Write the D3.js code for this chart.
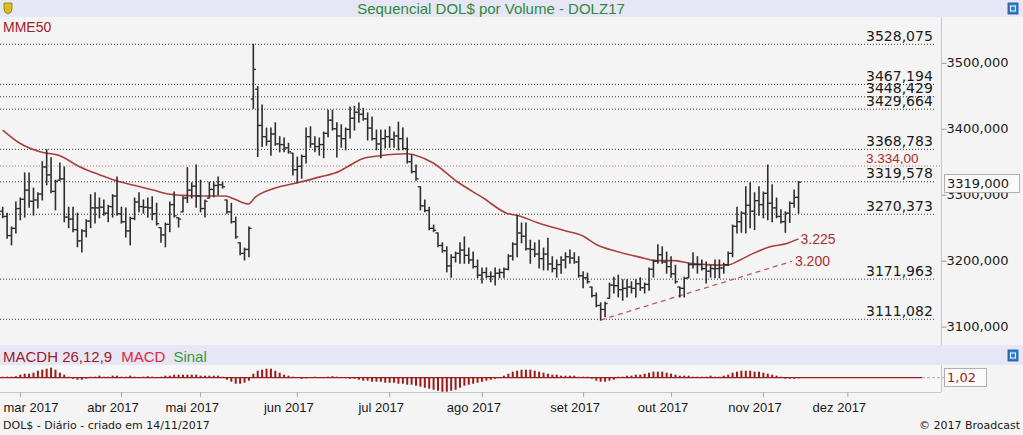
<!DOCTYPE html>
<html><head><meta charset="utf-8">
<script src="https://cdn.jsdelivr.net/npm/d3@7"></script>
<style>html,body{margin:0;padding:0;background:#f4f4f4;}svg{display:block;}</style>
</head><body>
<svg id="c" width="1023" height="435"></svg>
<script>
// ---- DATA ----
const high = [3281,3272,3251,3289,3295,3333,3333,3310,3303,3350,3368,3356,3322,3348,3342,3281,3281,3272,3247,3262,
3300,3303,3295,3292,3284,3300,3327,3281,3280,3266,3295,3303,3292,3295,3297,3287,3250,3257,3289,3304,
3265,3297,3341,3318,3345,3322,3292,3319,3319,3327,3319,3292,3287,3266,3227,3219,3251,3528,3464,3436,
3401,3401,3409,3388,3386,3378,3363,3357,3360,3401,3403,3388,3386,3395,3428,3428,3409,3406,3401,3433,
3434,3439,3431,3424,3418,3398,3398,3398,3403,3395,3410,3401,3386,3360,3345,3312,3292,3281,3254,3242,
3227,3221,3209,3213,3227,3236,3219,3213,3201,3189,3189,3183,3189,3187,3189,3209,3227,3269,3257,3257,
3231,3227,3231,3219,3234,3206,3201,3206,3212,3216,3212,3206,3183,3181,3160,3151,3136,3137,3166,3175,
3178,3171,3171,3168,3171,3174,3166,3189,3201,3224,3221,3213,3206,3193,3160,3175,3196,3212,3206,3201,
3198,3193,3201,3201,3196,3213,3254,3281,3274,3312,3318,3303,3312,3304,3345,3315,3295,3277,3274,3289,
3307,3320];
const low = [3265,3234,3224,3242,3262,3266,3281,3269,3280,3292,3315,3303,3277,3322,3259,3250,3244,3221,3213,3236,
3250,3257,3265,3269,3259,3266,3269,3257,3236,3224,3262,3274,3272,3266,3262,3254,3228,3221,3244,3266,
3251,3274,3288,3295,3281,3274,3266,3295,3297,3300,3310,3272,3257,3234,3209,3201,3206,3431,3358,3373,
3375,3360,3375,3365,3365,3363,3330,3318,3325,3348,3372,3365,3360,3356,3388,3398,3357,3372,3368,3386,
3398,3410,3413,3383,3383,3368,3356,3371,3372,3372,3368,3368,3348,3333,3322,3277,3274,3247,3244,3221,
3213,3183,3175,3198,3196,3196,3196,3189,3174,3166,3174,3168,3163,3174,3174,3186,3201,3206,3227,3216,
3196,3206,3189,3186,3186,3183,3175,3181,3189,3196,3196,3175,3159,3166,3145,3130,3110,3115,3143,3151,
3145,3140,3145,3151,3145,3155,3151,3155,3175,3196,3196,3181,3175,3166,3145,3145,3174,3189,3181,3186,
3166,3175,3174,3174,3181,3193,3206,3242,3243,3242,3250,3247,3269,3265,3262,3259,3265,3257,3243,3258,
3281,3272];
const open = [3275,3267,3238,3249,3279,3293,3307,3290,3292,3301,3342,3330,3305,3322,3324,3266,3263,3247,3230,3245,
3260,3280,3280,3281,3272,3282,3298,3271,3259,3245,3264,3289,3282,3281,3280,3271,3250,3239,3255,3285,
3265,3274,3295,3307,3313,3298,3279,3295,3308,3314,3315,3292,3274,3259,3227,3211,3217,3445,3460,3405,
3388,3381,3392,3377,3376,3371,3363,3338,3343,3358,3388,3377,3373,3376,3393,3413,3400,3389,3385,3399,
3416,3425,3422,3415,3401,3385,3377,3385,3388,3384,3389,3385,3370,3350,3335,3312,3283,3276,3249,3242,
3223,3215,3192,3205,3211,3216,3208,3201,3191,3178,3182,3176,3176,3181,3182,3187,3207,3225,3242,3237,
3218,3217,3210,3203,3210,3195,3188,3194,3201,3206,3204,3198,3177,3174,3160,3147,3132,3126,3143,3163,
3162,3156,3158,3160,3158,3165,3159,3164,3187,3199,3209,3198,3191,3180,3160,3158,3174,3194,3194,3194,
3188,3184,3188,3188,3189,3194,3211,3252,3259,3272,3284,3275,3291,3285,3302,3287,3280,3267,3259,3272,
3287,3296];
const close = [3267,3238,3249,3279,3293,3307,3290,3292,3301,3342,3330,3305,3320,3324,3266,3263,3247,3230,3245,3260,
3280,3280,3281,3272,3282,3298,3271,3259,3245,3264,3289,3282,3281,3280,3271,3256,3239,3255,3285,3268,
3263,3295,3307,3313,3298,3279,3290,3308,3314,3315,3312,3274,3259,3236,3211,3217,3249,3490,3405,3388,
3381,3392,3377,3376,3371,3365,3338,3343,3358,3388,3377,3373,3376,3393,3413,3400,3389,3385,3399,3416,
3425,3422,3415,3401,3385,3377,3385,3388,3384,3389,3385,3370,3350,3335,3324,3283,3276,3249,3246,3223,
3215,3192,3205,3211,3216,3208,3201,3191,3178,3182,3176,3176,3181,3182,3187,3207,3225,3242,3237,3218,
3217,3210,3203,3210,3195,3188,3194,3201,3206,3204,3198,3177,3174,3168,3147,3132,3126,3135,3163,3162,
3156,3158,3160,3158,3165,3159,3164,3187,3199,3209,3198,3191,3180,3168,3158,3173,3194,3194,3194,3188,
3184,3188,3188,3189,3194,3211,3252,3259,3272,3284,3275,3291,3285,3302,3287,3280,3267,3259,3272,3287,
3296,3319];
// MME50 sampled (bar index, value)
const mmeIdx = [0,3.9,8.5,13,17.6,22.1,25.9,30.1,34.2,37.7,41,45.3,50.6,52.8,55.9,57.4,62,67,72.2,76.7,78.3,82,85.8,91.9,94.2,97.9,
103.3,109.3,114.6,117.3,121.5,127.5,132.1,135.1,139.7,145.7,148.4,152.5,156.3,160.1,164.7,167.7,170.7,174.5,178.3,181];
const mmeVal = [3398,3378,3365,3359,3342,3330,3321,3314,3307,3301,3299,3298,3298,3293,3286,3296,3310,3318,3327,3336,3342,3355,3359,3362,3359,3348,
3320,3295,3272,3268,3258,3246,3237,3224,3214,3204,3200,3200,3196,3194,3193,3201,3211,3221,3226,3233];
// MACD histogram (per bar)
const macdH = [1,1,1,1.5,3,4,4,5,7,8,9,10,8,5,3,1,-1,-2,-2,-1,
1,1,2,1,1,2,2,1,1,2,1,0.5,1,1.5,1,0.5,1,2,2,3,
3,3,3,3,3,2,2,2,2,2,1,-2,-4,-6,-6,-5,-3,4,7,8,
9,9,7,5,3,2,1,0.5,-1,-0.5,0.5,1,0.5,0.5,1,1.5,1,0.5,-0.5,-1,
-1,-2,-3,-3,-4,-4,-4,-5,-5,-5,-6,-6,-7,-7,-8,-9,-10,-11,-12,-13,
-14,-14,-13,-12,-10,-8,-7,-6,-5,-4,-3,-2,-1,0,2,4,6,7,8,8,
8,7,6,5,4,3,3,2,2,2,2,1,1,1,-1,-3,-4,-4,-3,-2,
1,1,2,2,3,3,4,5,6,6,6,5,4,3,2,2,2,1,1,1,
1,2,1,1,2,3,5,6,7,7,7,6,6,5,4,3,2,1,-1,-1,
-1,-0.5];
const levels = [3528.075,3467.194,3448.429,3429.664,3368.783,3319.578,3270.373,3171.963,3111.082];
const levelLabels = ["3528,075","3467,194","3448,429","3429,664","3368,783","3319,578","3270,373","3171,963","3111,082"];
// red alert line: drawn position, with its own label
const redLevel = 3343.5, redLevelLabel = "3.334,00";
const priceTicks = [3100,3200,3300,3400,3500];
const priceTickLabels = ["3100,000","3200,000","3300,000","3400,000","3500,000"];
const monthIdx = [3.9,26.9,44.9,66.9,87.9,109,132,152,172.9,192.1];
const monthLabels = ["mar 2017","abr 2017","mai 2017","jun 2017","jul 2017","ago 2017","set 2017","out 2017","nov 2017","dez 2017"];
const trendIdx = [136,179.5], trendVal = [3110,3199];
const lastPrice = "3319,000", lastMacd = "1,02";
const mmeLabel = "3.225", trendLabel = "3.200";

// ---- DRAW ----
const svg = d3.select("#c");
const W = 1023, PR = 941;
const x = d3.scaleLinear().domain([-0.614, 213.4]).range([0, PR]);
const y = d3.scaleLinear().domain([3100, 3500]).range([326.6, 62.8]);
const ym = d3.scaleLinear().domain([-14, 10]).range([391.7, 367.7]);

svg.append("rect").attr("width",W).attr("height",435).attr("fill","#f4f4f4");
// title bar
svg.append("rect").attr("x",0).attr("y",0).attr("width",W).attr("height",17).attr("fill","#e6e6f7");
svg.append("text").attr("x",491).attr("y",14).attr("text-anchor","middle")
  .attr("font-family","Liberation Sans, Arial").attr("font-size",15).attr("fill","#2e8b35")
  .text("Sequencial DOL$ por Volume - DOLZ17");
// icons
svg.append("path").attr("d","M4,3 h8 v6 q0,4 -4,5 q-4,-1 -4,-5 z").attr("fill","#d8c020").attr("stroke","#8a7a10").attr("stroke-width",0.8);
function blueIcon(x0,y0){
  svg.append("rect").attr("x",x0).attr("y",y0).attr("width",10).attr("height",11).attr("fill","#2a7fd0").attr("stroke","#1a4f90").attr("stroke-width",0.8);
  svg.append("rect").attr("x",x0+2.5).attr("y",y0+3).attr("width",5).attr("height",5).attr("fill","none").attr("stroke","#fff").attr("stroke-width",1);
}
blueIcon(1008,3);
// price pane
svg.append("rect").attr("x",0).attr("y",17).attr("width",W).attr("height",328).attr("fill","#f4f4f4");
svg.append("text").attr("x",3).attr("y",32).attr("font-family","Liberation Sans, Arial").attr("font-size",14).attr("fill","#a0202a").text("MME50");

// level lines
const g = svg.append("g");
levels.forEach((v,i)=>{
  g.append("line").attr("x1",0).attr("x2",935).attr("y1",y(v)).attr("y2",y(v))
   .attr("stroke","#333").attr("stroke-width",1).attr("stroke-dasharray","1,2");
  g.append("text").attr("x",866).attr("y",y(v)-3.4).attr("font-family","DejaVu Sans").attr("font-size",14)
   .attr("fill","#1a1a1a").text(levelLabels[i]);
});
g.append("line").attr("x1",0).attr("x2",PR).attr("y1",y(redLevel)).attr("y2",y(redLevel))
 .attr("stroke","#d06a6a").attr("stroke-width",1).attr("stroke-dasharray","1,2");
g.append("text").attr("x",866).attr("y",y(redLevel)-3).attr("font-family","Liberation Sans, Arial").attr("font-size",13.5)
 .attr("fill","#b02a2a").text(redLevelLabel);

// right axis
svg.append("line").attr("x1",PR+0.5).attr("x2",PR+0.5).attr("y1",17).attr("y2",345).attr("stroke","#c8c8c8");
const ax = svg.append("g").attr("transform",`translate(${PR+0.5},0)`)
  .call(d3.axisRight(y).tickValues(priceTicks).tickSize(5).tickFormat((d,i)=>priceTickLabels[i]));
ax.select(".domain").remove();
ax.selectAll("line").attr("stroke","#999");
ax.selectAll("text").attr("font-family","DejaVu Sans").attr("font-size",13).attr("fill","#1a1a1a").attr("x",5);

// MME line
const mmePts = mmeIdx.map((d,i)=>[d,mmeVal[i]]);
svg.append("path").attr("d", d3.line().x(d=>x(d[0])).y(d=>y(d[1])).curve(d3.curveMonotoneX)(mmePts))
  .attr("fill","none").attr("stroke","#a8403f").attr("stroke-width",1.6);
// trend line
svg.append("line").attr("x1",x(trendIdx[0])).attr("y1",y(trendVal[0])).attr("x2",x(trendIdx[1])).attr("y2",y(trendVal[1]))
  .attr("stroke","#c05a5a").attr("stroke-width",1.3).attr("stroke-dasharray","5,4");
svg.append("text").attr("x",x(181)+2).attr("y",y(mmeVal[mmeVal.length-1])+5).attr("font-family","Liberation Sans, Arial")
  .attr("font-size",14).attr("fill","#a8303a").text(mmeLabel);
svg.append("text").attr("x",x(trendIdx[1])+3).attr("y",y(trendVal[1])+5).attr("font-family","Liberation Sans, Arial")
  .attr("font-size",14).attr("fill","#a8303a").text(trendLabel);

// OHLC bars
const bars = svg.append("g").attr("stroke","#2e2e2e").attr("stroke-width",1.6);
high.forEach((h,i)=>{
  const cx = x(i);
  bars.append("line").attr("x1",cx).attr("x2",cx).attr("y1",y(h)-0.5).attr("y2",y(low[i])+0.5);
  bars.append("line").attr("x1",cx-2.6).attr("x2",cx).attr("y1",y(open[i])).attr("y2",y(open[i])).attr("stroke-width",1.3);
  bars.append("line").attr("x1",cx).attr("x2",cx+2.6).attr("y1",y(close[i])).attr("y2",y(close[i])).attr("stroke-width",1.3);
});

// last price box
svg.append("rect").attr("x",944.5).attr("y",174.5).attr("width",75).attr("height",18).attr("fill","#fafafa").attr("stroke","#b0b0b0");
svg.append("text").attr("x",947).attr("y",188).attr("font-family","DejaVu Sans").attr("font-size",13).attr("fill","#1a1a1a").text(lastPrice);

// MACD header
svg.append("rect").attr("x",0).attr("y",345).attr("width",W).attr("height",20).attr("fill","#e6e6f7");
const mh = svg.append("text").attr("x",3).attr("y",362).attr("font-family","Liberation Sans, Arial").attr("font-size",15);
mh.append("tspan").attr("fill","#9b1c24").text("MACDH 26,12,9");
mh.append("tspan").attr("dx",9).attr("fill","#e0283a").text("MACD");
mh.append("tspan").attr("dx",8).attr("fill","#3a9a3a").text("Sinal");
blueIcon(1008,350);
// MACD pane
svg.append("rect").attr("x",0).attr("y",365).attr("width",PR).attr("height",27).attr("fill","#f7f7f7");
svg.append("line").attr("x1",PR+0.5).attr("x2",PR+0.5).attr("y1",365).attr("y2",392).attr("stroke","#c8c8c8");
svg.append("line").attr("x1",0).attr("x2",PR).attr("y1",392.5).attr("y2",392.5).attr("stroke","#c8c8c8");
svg.append("g").selectAll("rect").data(macdH).join("rect")
  .attr("x",(d,i)=>x(i)-1).attr("width",2)
  .attr("y",d=>Math.min(ym(d),ym(0))).attr("height",d=>Math.abs(ym(d)-ym(0)))
  .attr("fill","#9b1b1b");
svg.append("line").attr("x1",0).attr("x2",922).attr("y1",ym(0)).attr("y2",ym(0)).attr("stroke","#9b1b1b").attr("stroke-width",1.2);
svg.append("line").attr("x1",922).attr("x2",944).attr("y1",ym(0)).attr("y2",ym(0)).attr("stroke","#aaa").attr("stroke-dasharray","3,2");
svg.append("rect").attr("x",944.5).attr("y",368.5).attr("width",42).attr("height",18).attr("fill","#fafafa").attr("stroke","#b0b0b0");
svg.append("text").attr("x",947).attr("y",382).attr("font-family","DejaVu Sans").attr("font-size",13).attr("fill","#9b1b1b").text(lastMacd);

// x axis
const xa = svg.append("g").attr("transform","translate(0,392)")
  .call(d3.axisBottom(x).tickValues(monthIdx).tickSize(5).tickFormat((d,i)=>monthLabels[i]));
xa.select(".domain").remove();
xa.selectAll("line").attr("stroke","#aaa");
xa.selectAll("text").attr("font-family","Liberation Sans, Arial").attr("font-size",13).attr("fill","#1a1a1a")
  .attr("y",15).attr("dy","0.35em").attr("x",-8.5);
xa.selectAll("text").filter((d,i)=>i===0).attr("text-anchor","start").attr("x",3-x(monthIdx[0]));

// footer
svg.append("text").attr("x",3).attr("y",429).attr("font-family","DejaVu Sans").attr("font-size",11).attr("fill","#1a1a1a")
  .text("DOL$ - Diário - criado em 14/11/2017");
svg.append("text").attr("x",1020).attr("y",429).attr("text-anchor","end").attr("font-family","DejaVu Sans").attr("font-size",11).attr("fill","#1a1a1a")
  .text("© 2017 Broadcast");
</script>
</body></html>
